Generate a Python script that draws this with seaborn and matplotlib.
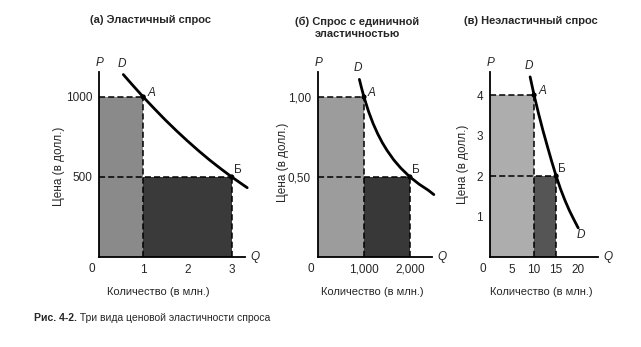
import matplotlib
matplotlib.use("Agg")
import matplotlib.pyplot as plt
import seaborn as sns
import pandas as pd

# ---------------- data ----------------
titles = ["(а) Эластичный спрос", "(б) Спрос с единичной\nэластичностью", "(в) Неэластичный спрос"]
x_label = "Количество (в млн.)"
y_label = "Цена (в долл.)"
caption_bold = "Рис. 4-2."
caption_text = " Три вида ценовой эластичности спроса"

# (a) elastic demand
a_curve_q = [0.55, 0.75, 1.0, 1.25, 1.5, 1.75, 2.0, 2.25, 2.5, 2.75, 3.0, 3.25, 3.35]
a_curve_p = [1140, 1077, 1000, 927, 856, 789, 725, 664, 606, 552, 500, 452, 433]
a_pts_q = [1, 3]
a_pts_p = [1000, 500]
a_xticks = [1, 2, 3]
a_xticklabels = ["1", "2", "3"]
a_yticks = [500, 1000]
a_yticklabels = ["500", "1000"]

# (b) unit elastic demand
b_curve_q = [900, 950, 1000, 1100, 1200, 1300, 1400, 1500, 1650, 1800, 2000, 2200, 2400, 2520]
b_curve_p = [1.11, 1.053, 1.00, 0.909, 0.833, 0.769, 0.714, 0.667, 0.606, 0.556, 0.50, 0.455, 0.417, 0.39]
b_pts_q = [1000, 2000]
b_pts_p = [1.00, 0.50]
b_xticks = [1000, 2000]
b_xticklabels = ["1,000", "2,000"]
b_yticks = [0.5, 1.0]
b_yticklabels = ["0,50", "1,00"]

# (c) inelastic demand
c_curve_q = [9.1, 10, 11, 12, 13, 14, 15, 16, 17, 18, 19, 20]
c_curve_p = [4.45, 4.0, 3.55, 3.13, 2.74, 2.36, 2.0, 1.68, 1.40, 1.15, 0.93, 0.72]
c_pts_q = [10, 15]
c_pts_p = [4, 2]
c_xticks = [5, 10, 15, 20]
c_xticklabels = ["5", "10", "15", "20"]
c_yticks = [1, 2, 3, 4]
c_yticklabels = ["1", "2", "3", "4"]

# ---------------- style ----------------
sns.set_style("white")
plt.rcParams["font.family"] = ["Liberation Sans", "DejaVu Sans"]

W, H = 641, 347
fig = plt.figure(figsize=(W / 100, H / 100), dpi=100)


def px_axes(x0, y_axis, x1, y_top):
    return fig.add_axes([x0 / W, (H - y_axis) / H, (x1 - x0) / W, (y_axis - y_top) / H])


panels = [
    dict(ax=px_axes(99, 257, 245, 72), q=a_curve_q, p=a_curve_p, pq=a_pts_q, pp=a_pts_p,
         xlim=(0, 3.3), ylim=(0, 1156), xt=a_xticks, xtl=a_xticklabels, yt=a_yticks, ytl=a_yticklabels,
         c_left="#8a8a8a", c_right="#3a3a3a", title_x=151, title_y=20, ylab_x=59, ylab_y=166,
         xlab_x=158, ticks=False),
    dict(ax=px_axes(318, 257, 432, 72), q=b_curve_q, p=b_curve_p, pq=b_pts_q, pp=b_pts_p,
         xlim=(0, 2480), ylim=(0, 1.156), xt=b_xticks, xtl=b_xticklabels, yt=b_yticks, ytl=b_yticklabels,
         c_left="#9c9c9c", c_right="#383838", title_x=357, title_y=20, ylab_x=283, ylab_y=162,
         xlab_x=372, ticks=False),
    dict(ax=px_axes(490, 257, 598, 72), q=c_curve_q, p=c_curve_p, pq=c_pts_q, pp=c_pts_p,
         xlim=(0, 24.5), ylim=(0, 4.57), xt=c_xticks, xtl=c_xticklabels, yt=c_yticks, ytl=c_yticklabels,
         c_left="#adadad", c_right="#555555", title_x=531, title_y=21, ylab_x=463, ylab_y=164,
         xlab_x=541, ticks=True),
]

fs = 8.5
lab_fs = 8.5
for i, d in enumerate(panels):
    ax = d["ax"]
    qA, qB = d["pq"]
    pA, pB = d["pp"]
    # revenue rectangles
    ax.bar([0], [pA], width=[qA], align="edge", color=d["c_left"], edgecolor="none", zorder=1)
    ax.bar([qA], [pB], width=[qB - qA], align="edge", color=d["c_right"], edgecolor="none", zorder=1)
    # dashed guides
    dash = (0, (4, 2))
    ax.plot([0, qA], [pA, pA], ls=dash, color="black", lw=1.1, zorder=3)
    ax.plot([qA, qA], [0, pA], ls=dash, color="black", lw=1.1, zorder=3)
    ax.plot([0, qB], [pB, pB], ls=dash, color="black", lw=1.1, zorder=3)
    ax.plot([qB, qB], [0, pB], ls=dash, color="black", lw=1.1, zorder=3)
    # demand curve
    df = pd.DataFrame({"Q": d["q"], "P": d["p"]})
    sns.lineplot(data=df, x="Q", y="P", ax=ax, color="black", lw=2.0, sort=False,
                 estimator=None, zorder=4, clip_on=False)
    sns.scatterplot(x=d["pq"], y=d["pp"], ax=ax, color="black", s=14, zorder=5,
                    edgecolor="none", clip_on=False)
    ax.set_xlim(*d["xlim"])
    ax.set_ylim(*d["ylim"])
    ax.set_xlabel("")
    ax.set_ylabel("")
    for s in ["top", "right"]:
        ax.spines[s].set_visible(False)
    for s in ["left", "bottom"]:
        ax.spines[s].set_color("black")
        ax.spines[s].set_linewidth(1.3)
        ax.spines[s].set_zorder(6)
    ax.set_xticks(d["xt"])
    ax.set_xticklabels(d["xtl"], fontsize=fs)
    ax.set_yticks(d["yt"])
    ax.set_yticklabels(d["ytl"], fontsize=fs)
    ax.tick_params(axis="both", which="major", length=0, pad=5)
    if d["ticks"]:
        ax.set_yticks([1, 3], minor=True)
        ax.set_xticks([5, 20], minor=True)
        ax.tick_params(which="minor", direction="in", length=5, width=1.2, color="black",
                       left=True, bottom=True)
    # origin zero
    ax.annotate("0", xy=(0, 0), xycoords="data", xytext=(-7, -12), textcoords="offset pixels",
                ha="center", va="center", fontsize=fs)
    # axis letters
    ax.annotate("P", xy=(0, 1), xycoords="axes fraction", xytext=(1, 9), textcoords="offset pixels",
                ha="center", va="center", fontsize=lab_fs, style="italic")
    ax.annotate("Q", xy=(1, 0), xycoords="axes fraction", xytext=(10, 0), textcoords="offset pixels",
                ha="center", va="center", fontsize=lab_fs, style="italic")
    # curve labels
    ax.annotate("D", xy=(d["q"][0], d["p"][0]), xytext=(-1, 11), textcoords="offset pixels",
                ha="center", va="center", fontsize=lab_fs, style="italic")
    end_off = [(8, -3), (6, -4), (3, -7)][i]
    ax.annotate("D", xy=(d["q"][-1], d["p"][-1]), xytext=end_off, textcoords="offset pixels",
                ha="center", va="center", fontsize=lab_fs, style="italic")
    ax.annotate("A", xy=(qA, pA), xytext=(4, 4), textcoords="offset pixels",
                ha="left", va="center", fontsize=lab_fs, style="italic")
    ax.annotate("Б", xy=(qB, pB), xytext=(2, 7), textcoords="offset pixels",
                ha="left", va="center", fontsize=lab_fs)
    # titles and axis labels in figure pixel coords
    if i != 1:
        fig.text(d["title_x"] / W, 1 - d["title_y"] / H, titles[i], ha="center", va="center",
                 fontsize=8, fontweight="bold")
    fig.text(d["ylab_x"] / W, 1 - d["ylab_y"] / H, y_label, rotation=90, ha="center", va="center",
             fontsize=8.5)
    fig.text(d["xlab_x"] / W, 1 - 292 / H, x_label, ha="center", va="center", fontsize=8)

# two-line title of panel (b)
fig.text(357 / W, 1 - 27.5 / H, titles[1], ha="center", va="center", fontsize=8,
         fontweight="bold", linespacing=1.3)

# caption
t = fig.text(34 / W, 1 - 318 / H, caption_bold, ha="left", va="center", fontsize=7.5, fontweight="bold")
fig.canvas.draw()
bb = t.get_window_extent()
fig.text(bb.x1 / W, 1 - 318 / H, caption_text, ha="left", va="center", fontsize=7.5)

fig.savefig("out.png", dpi=100)
